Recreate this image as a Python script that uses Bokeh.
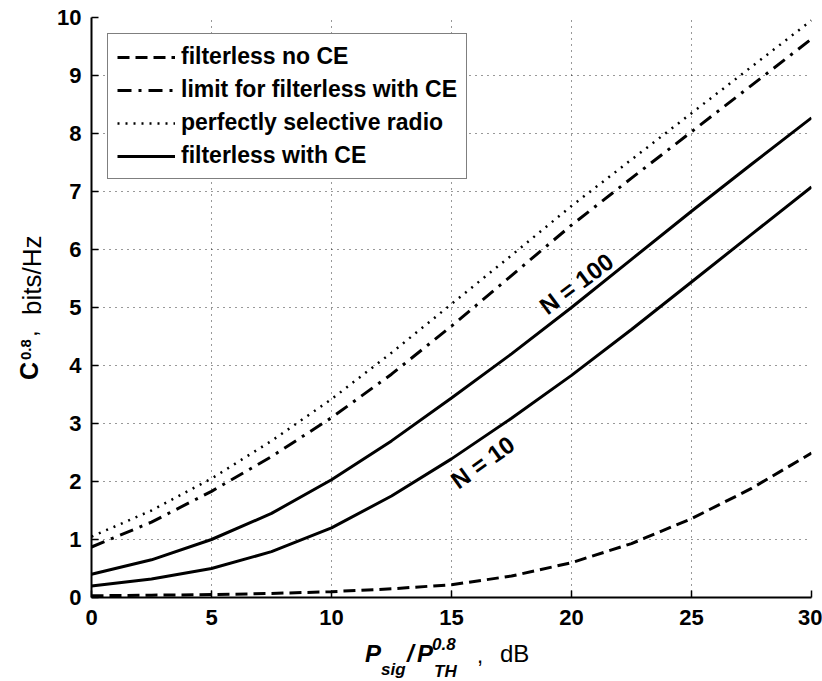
from bokeh.plotting import figure
from bokeh.models import Range1d, SingleIntervalTicker, Legend, LegendItem, Label, Div
from bokeh.layouts import row, column
from bokeh.embed import file_html
from bokeh.resources import INLINE

# ---- data ----
snr_db = [0, 2.5, 5, 7.5, 10, 12.5, 15, 17.5, 20, 22.5, 25, 27.5, 30]
no_ce = [0.03, 0.04, 0.05, 0.07, 0.10, 0.15, 0.22, 0.37, 0.60, 0.93, 1.36, 1.88, 2.49]
limit_ce = [0.87, 1.30, 1.83, 2.43, 3.10, 3.85, 4.68, 5.55, 6.42, 7.23, 8.03, 8.83, 9.63]
selective = [1.05, 1.50, 2.05, 2.70, 3.42, 4.22, 5.06, 5.90, 6.75, 7.55, 8.35, 9.15, 9.95]
ce_n100 = [0.40, 0.65, 1.00, 1.45, 2.03, 2.70, 3.44, 4.20, 5.00, 5.83, 6.66, 7.47, 8.27]
ce_n10 = [0.20, 0.32, 0.50, 0.79, 1.20, 1.75, 2.39, 3.09, 3.83, 4.62, 5.44, 6.26, 7.08]

legend_labels = ["filterless no CE", "limit for filterless with CE",
                 "perfectly selective radio", "filterless with CE"]
curve_labels = ["N = 100", "N = 10"]

FONT = "Liberation Sans"

p = figure(width=772, height=635, output_backend="svg", toolbar_location=None,
           x_range=Range1d(0, 30), y_range=Range1d(0, 10),
           min_border_left=41, min_border_right=11, min_border_top=17, min_border_bottom=38)
p.margin = 0
p.outline_line_color = None
p.background_fill_color = "white"
p.border_fill_color = "white"

p.xaxis.ticker = SingleIntervalTicker(interval=5)
p.yaxis.ticker = SingleIntervalTicker(interval=1)
for ax in (p.xaxis, p.yaxis):
    ax.axis_line_color = "black"
    ax.axis_line_width = 2
    ax.major_tick_in = 7
    ax.major_tick_out = 0
    ax.major_tick_line_width = 1.5
    ax.minor_tick_line_color = None
    ax.major_label_text_font = FONT
    ax.major_label_text_font_style = "bold"
    ax.major_label_text_font_size = "22px"
    ax.major_label_text_color = "black"
p.xaxis.major_label_standoff = 8
p.yaxis.major_label_standoff = 6

for g in (p.xgrid, p.ygrid):
    g.grid_line_color = "black"
    g.grid_line_alpha = 0.8
    g.grid_line_dash = "1 5"
    g.grid_line_width = 1
p.xgrid.ticker = SingleIntervalTicker(interval=5)
p.ygrid.ticker = SingleIntervalTicker(interval=1)

r_noce = p.line(snr_db, no_ce, line_color="black", line_width=3, line_dash="12 6")
r_lim = p.line(snr_db, limit_ce, line_color="black", line_width=3, line_dash="14 7 3 7")
r_sel = p.line(snr_db, selective, line_color="black", line_width=2.5, line_dash="2 6")
r_100 = p.line(snr_db, ce_n100, line_color="black", line_width=3)
r_10 = p.line(snr_db, ce_n10, line_color="black", line_width=3)

legend = Legend(items=[LegendItem(label=legend_labels[0], renderers=[r_noce]),
                       LegendItem(label=legend_labels[1], renderers=[r_lim]),
                       LegendItem(label=legend_labels[2], renderers=[r_sel]),
                       LegendItem(label=legend_labels[3], renderers=[r_100])],
                location="top_left", margin=16, padding=9, spacing=6,
                glyph_width=58, glyph_height=22, label_height=22, label_standoff=6,
                label_text_font=FONT, label_text_font_style="bold",
                label_text_font_size="23px", label_text_color="black",
                border_line_color="black", border_line_width=1.5,
                background_fill_color="white", background_fill_alpha=1.0)
p.add_layout(legend)

# curve labels
p.add_layout(Label(x=20.2, y=5.41, text=curve_labels[0], angle=0.64,
                   text_align="center", text_baseline="middle", text_color="black",
                   text_font=FONT, text_font_style="bold", text_font_size="24px"))
p.add_layout(Label(x=16.3, y=2.33, text=curve_labels[1], angle=0.62,
                   text_align="center", text_baseline="middle", text_color="black",
                   text_font=FONT, text_font_style="bold", text_font_size="24px"))


def span(left, top, text, size, weight="normal", style="normal"):
    return (f'<span style="position:absolute;left:{left}px;top:{top}px;'
            f'font-family:\'{FONT}\';font-size:{size}px;line-height:1;'
            f'font-weight:{weight};font-style:{style};color:black;white-space:nowrap;">'
            f'{text}</span>')


# x axis title: P_sig / P_TH^0.8 , dB
x_parts = [
    span(365, 6.7, "P", 24, "bold", "italic"),
    span(381, 25.6, "sig", 17, "bold", "italic"),
    span(407, 6.7, "/", 24, "bold", "italic"),
    span(417, 6.7, "P", 24, "bold", "italic"),
    span(432, 0.6, "0.8", 17, "bold", "italic"),
    span(434, 27.6, "TH", 17, "bold", "italic"),
    span(477, 10.4, ",", 22),
    span(500, 6.7, "dB", 24),
]
xdiv = Div(text='<div style="position:relative;width:822px;height:46px;">'
                + "".join(x_parts) + "</div>",
           width=822, height=46, margin=0)

# y axis title: C^0.8 , bits/Hz (rotated)
y_parts = [
    span(40, 16.8, "C", 25, "bold"),
    span(60, 17.5, "0.8", 15, "bold"),
    span(83, 16.7, ",", 24),
    span(105, 19.0, "bits/Hz", 26),
]
ydiv = Div(text='<div style="position:relative;width:50px;height:635px;">'
                '<div style="position:absolute;left:0px;top:420px;width:300px;height:50px;'
                'transform-origin:0 0;transform:rotate(-90deg);">'
                + "".join(y_parts) + "</div></div>",
           width=50, height=635, margin=0)

layout = column(row(ydiv, p, spacing=0), xdiv, spacing=0)

open("out.html", "w").write(file_html(layout, INLINE))
